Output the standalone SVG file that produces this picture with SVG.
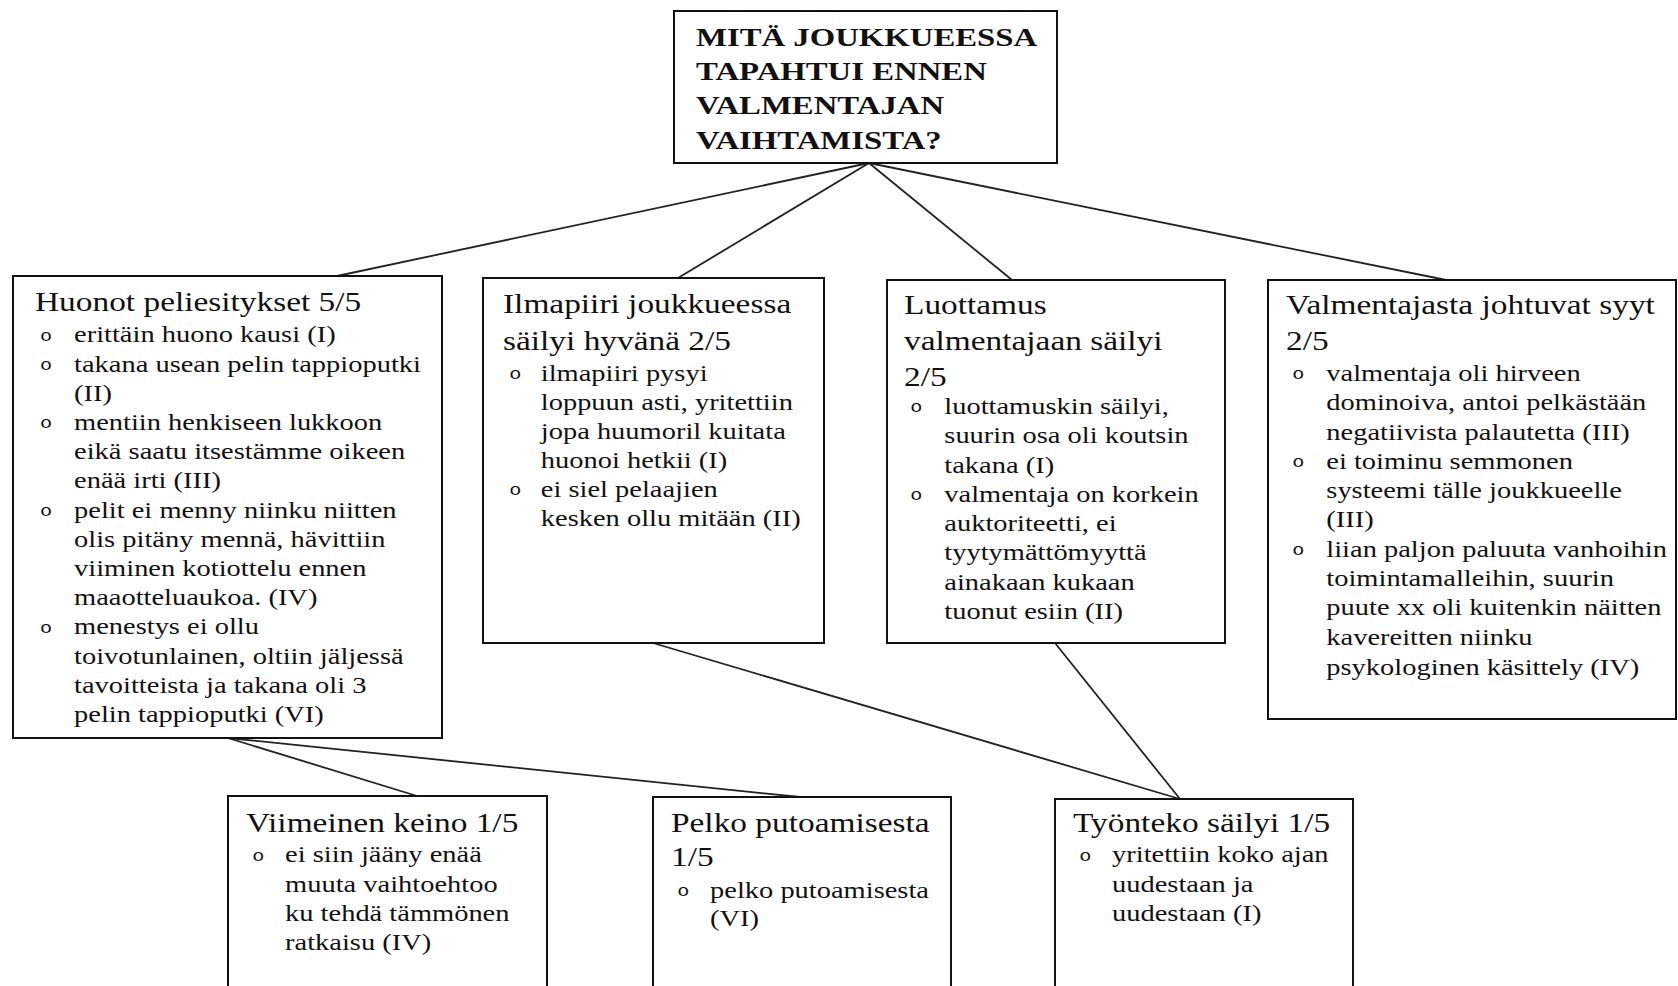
<svg xmlns="http://www.w3.org/2000/svg" width="1678" height="986" viewBox="0 0 1678 986">
<style>
.box{fill:#fff;stroke:#111;stroke-width:2}
.ln{stroke:#222;stroke-width:1.8;fill:none}
text{font-family:"Liberation Serif","Times New Roman",serif;fill:#111}
.t{font-size:26px;font-weight:bold}
.h{font-size:26.5px}
.b{font-size:22.6px}
.o{font-family:"Liberation Mono","Courier New",monospace;font-size:16px}
</style>
<rect width="1678" height="986" fill="#fff"/>
<g id="connectors">
<line class="ln" x1="869" y1="163" x2="337" y2="276"/>
<line class="ln" x1="869" y1="163" x2="678" y2="278"/>
<line class="ln" x1="869" y1="163" x2="1012" y2="280"/>
<line class="ln" x1="869" y1="163" x2="1451" y2="281"/>
<line class="ln" x1="228" y1="738" x2="417" y2="796"/>
<line class="ln" x1="228" y1="738" x2="800" y2="797"/>
<line class="ln" x1="653" y1="643" x2="1180" y2="799"/>
<line class="ln" x1="1055" y1="643" x2="1180" y2="799"/>
</g>
<g id="n-top">
<rect class="box" x="674" y="11" width="383" height="152"/>
<g transform="translate(696,0) scale(1.26,1)">
<text class="t" x="0" y="46">MITÄ JOUKKUEESSA</text>
<text class="t" x="0" y="80">TAPAHTUI ENNEN</text>
<text class="t" x="0" y="114">VALMENTAJAN</text>
<text class="t" x="0" y="149">VAIHTAMISTA?</text>
</g>
</g>
<g id="n-huonot">
<rect class="box" x="13" y="276" width="429" height="462"/>
<g transform="translate(35,0) scale(1.26,1)">
<text class="h" x="0" y="311">Huonot peliesitykset 5/5</text>
<text class="o" x="4" y="341">o</text><text class="b" x="31" y="342.5">erittäin huono kausi (I)</text>
<text class="o" x="4" y="370">o</text><text class="b" x="31" y="371.7">takana usean pelin tappioputki</text>
<text class="b" x="31" y="400.9">(II)</text>
<text class="o" x="4" y="428.5">o</text><text class="b" x="31" y="430.1">mentiin henkiseen lukkoon</text>
<text class="b" x="31" y="459.3">eikä saatu itsestämme oikeen</text>
<text class="b" x="31" y="488.5">enää irti (III)</text>
<text class="o" x="4" y="516">o</text><text class="b" x="31" y="517.7">pelit ei menny niinku niitten</text>
<text class="b" x="31" y="546.9">olis pitäny mennä, hävittiin</text>
<text class="b" x="31" y="576.1">viiminen kotiottelu ennen</text>
<text class="b" x="31" y="605.3">maaotteluaukoa. (IV)</text>
<text class="o" x="4" y="633">o</text><text class="b" x="31" y="634.5">menestys ei ollu</text>
<text class="b" x="31" y="663.7">toivotunlainen, oltiin jäljessä</text>
<text class="b" x="31" y="692.9">tavoitteista ja takana oli 3</text>
<text class="b" x="31" y="722.1">pelin tappioputki (VI)</text>
</g>
</g>
<g id="n-ilmapiiri">
<rect class="box" x="483" y="278" width="341" height="365"/>
<g transform="translate(503,0) scale(1.26,1)">
<text class="h" x="0" y="313">Ilmapiiri joukkueessa</text>
<text class="h" x="0" y="350">säilyi hyvänä 2/5</text>
<text class="o" x="5" y="379.5">o</text><text class="b" x="30" y="381">ilmapiiri pysyi</text>
<text class="b" x="30" y="410">loppuun asti, yritettiin</text>
<text class="b" x="30" y="439">jopa huumoril kuitata</text>
<text class="b" x="30" y="468">huonoi hetkii (I)</text>
<text class="o" x="5" y="495.5">o</text><text class="b" x="30" y="497">ei siel pelaajien</text>
<text class="b" x="30" y="526">kesken ollu mitään (II)</text>
</g>
</g>
<g id="n-luottamus">
<rect class="box" x="887" y="280" width="338" height="363"/>
<g transform="translate(904,0) scale(1.26,1)">
<text class="h" x="0" y="314">Luottamus</text>
<text class="h" x="0" y="350">valmentajaan säilyi</text>
<text class="h" x="0" y="386">2/5</text>
<text class="o" x="5" y="412.5">o</text><text class="b" x="32" y="414">luottamuskin säilyi,</text>
<text class="b" x="32" y="443.3">suurin osa oli koutsin</text>
<text class="b" x="32" y="472.6">takana (I)</text>
<text class="o" x="5" y="500.4">o</text><text class="b" x="32" y="501.9">valmentaja on korkein</text>
<text class="b" x="32" y="531.2">auktoriteetti, ei</text>
<text class="b" x="32" y="560.5">tyytymättömyyttä</text>
<text class="b" x="32" y="589.8">ainakaan kukaan</text>
<text class="b" x="32" y="619.1">tuonut esiin (II)</text>
</g>
</g>
<g id="n-valmentajasta">
<rect class="box" x="1268" y="280" width="408" height="439"/>
<g transform="translate(1286,0) scale(1.26,1)">
<text class="h" x="0" y="314">Valmentajasta johtuvat syyt</text>
<text class="h" x="0" y="350">2/5</text>
<text class="o" x="5" y="379.5">o</text><text class="b" x="32" y="381">valmentaja oli hirveen</text>
<text class="b" x="32" y="410.3">dominoiva, antoi pelkästään</text>
<text class="b" x="32" y="439.6">negatiivista palautetta (III)</text>
<text class="o" x="5" y="467.4">o</text><text class="b" x="32" y="468.9">ei toiminu semmonen</text>
<text class="b" x="32" y="498.2">systeemi tälle joukkueelle</text>
<text class="b" x="32" y="527.5">(III)</text>
<text class="o" x="5" y="555.3">o</text><text class="b" x="32" y="556.8">liian paljon paluuta vanhoihin</text>
<text class="b" x="32" y="586.1">toimintamalleihin, suurin</text>
<text class="b" x="32" y="615.4">puute xx oli kuitenkin näitten</text>
<text class="b" x="32" y="644.7">kavereitten niinku</text>
<text class="b" x="32" y="675">psykologinen käsittely (IV)</text>
</g>
</g>
<g id="n-viimeinen">
<rect class="box" x="228" y="796" width="319" height="200"/>
<g transform="translate(246,0) scale(1.26,1)">
<text class="h" x="0" y="832">Viimeinen keino 1/5</text>
<text class="o" x="5" y="861">o</text><text class="b" x="31" y="862.5">ei siin jääny enää</text>
<text class="b" x="31" y="892">muuta vaihtoehtoo</text>
<text class="b" x="31" y="921">ku tehdä tämmönen</text>
<text class="b" x="31" y="950">ratkaisu (IV)</text>
</g>
</g>
<g id="n-pelko">
<rect class="box" x="653" y="797" width="298" height="200"/>
<g transform="translate(671,0) scale(1.26,1)">
<text class="h" x="0" y="832">Pelko putoamisesta</text>
<text class="h" x="0" y="866">1/5</text>
<text class="o" x="5" y="896.5">o</text><text class="b" x="31" y="898">pelko putoamisesta</text>
<text class="b" x="31" y="926">(VI)</text>
</g>
</g>
<g id="n-tyonteko">
<rect class="box" x="1055" y="799" width="298" height="200"/>
<g transform="translate(1073,0) scale(1.26,1)">
<text class="h" x="0" y="832">Työnteko säilyi 1/5</text>
<text class="o" x="5" y="861">o</text><text class="b" x="31" y="862.5">yritettiin koko ajan</text>
<text class="b" x="31" y="892">uudestaan ja</text>
<text class="b" x="31" y="921">uudestaan (I)</text>
</g>
</g>
</svg>
